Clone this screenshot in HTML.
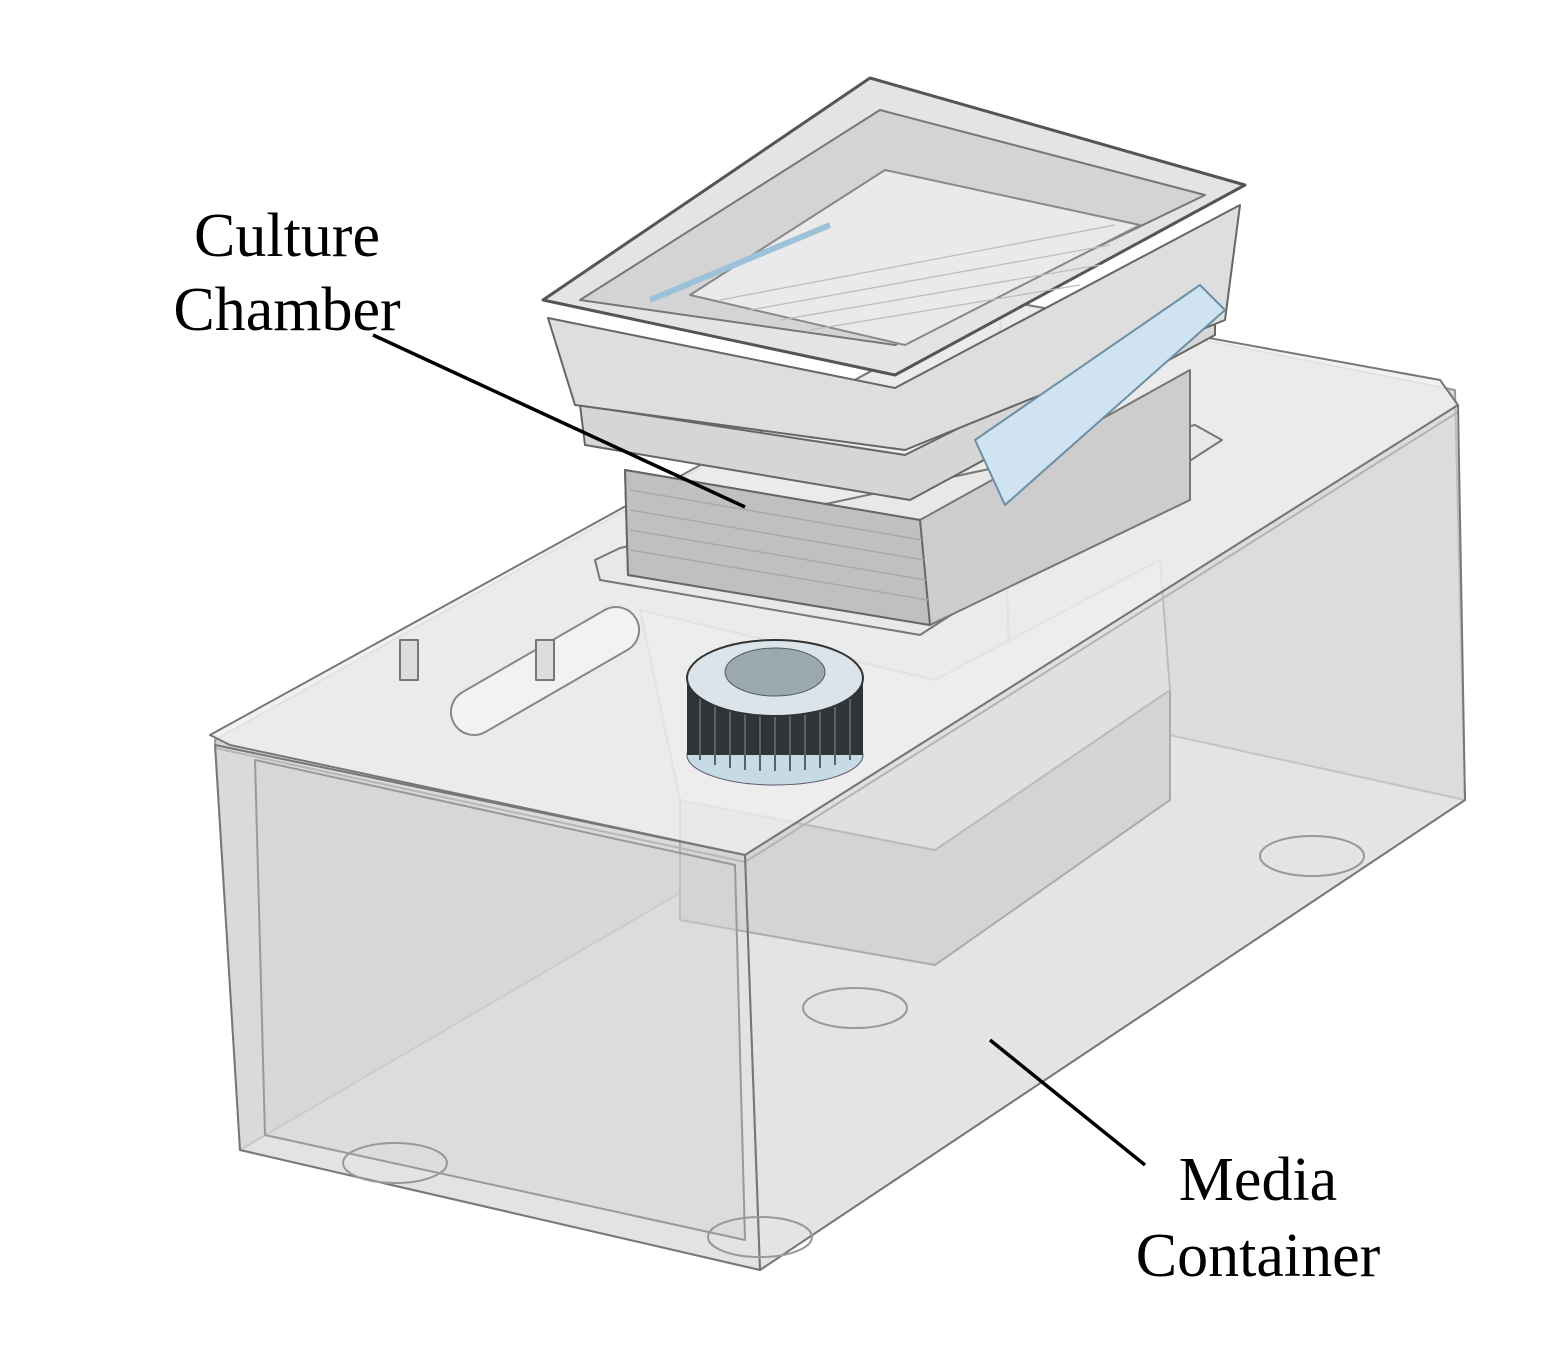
<!DOCTYPE html>
<html><head><meta charset="utf-8"><style>
html,body{margin:0;padding:0;background:#fff}
svg{display:block}
text{font-family:"Liberation Serif",serif;font-size:62px;fill:#000}
</style></head><body>
<svg width="1544" height="1347" viewBox="0 0 1544 1347" xmlns="http://www.w3.org/2000/svg">
<g stroke="#8a8a8a" stroke-width="2" stroke-linejoin="round">
<polygon points="1000,300 1455,390 1465,800 1010,700" fill="#d8d8d8" stroke="#9a9a9a"/>
<polygon points="215,740 1000,300 1010,700 240,1150" fill="#d4d4d4" stroke="#9a9a9a"/>
<polygon points="240,1150 1010,700 1465,800 760,1270" fill="#e8e8e8" stroke="#aaa"/>
<polygon points="680,800 935,850 1170,690 1170,800 935,965 680,920" fill="#c9c9c9" stroke="#777"/>
<polygon points="640,610 935,680 1160,560 1170,690 935,850 680,800" fill="#e0e0e0" stroke="#999"/>
<polygon points="210,735 1000,300 1440,380 1458,405 745,855 230,745" fill="#eeeeee" fill-opacity="0.85" stroke="#777"/>
<polyline points="215,748 745,862 1458,412" fill="none" stroke="#888"/>
<polygon points="215,745 745,855 760,1270 240,1150" fill="#dedede" fill-opacity="0.55" stroke="#777"/>
<polygon points="745,855 1458,405 1465,800 760,1270" fill="#e0e0e0" fill-opacity="0.5" stroke="#777"/>
<polygon points="255,760 735,865 745,1240 265,1135" fill="#d2d2d2" fill-opacity="0.45" stroke="#999"/>
<g fill="none" stroke="#999"><ellipse cx="395" cy="1163" rx="52" ry="20"/><ellipse cx="760" cy="1237" rx="52" ry="20"/><ellipse cx="855" cy="1008" rx="52" ry="20"/><ellipse cx="1312" cy="856" rx="52" ry="20"/></g>
<rect x="440" y="648" width="210" height="46" rx="23" transform="rotate(-30 545 671)" fill="#f2f2f2" stroke="#888"/>
<rect x="400" y="640" width="18" height="40" fill="#ddd" stroke="#777"/>
<rect x="536" y="640" width="18" height="40" fill="#ddd" stroke="#777"/>
<polygon points="595,560 620,548 1195,425 1222,440 920,635 600,580" fill="#e8e8e8" stroke="#777"/>
<polygon points="625,470 920,520 1190,370 1190,500 930,625 628,575" fill="#cdcdcd" stroke="#777"/>
<polygon points="625,470 920,520 930,625 628,575" fill="#c0c0c0" stroke="#666"/>
<g stroke="#a9a9a9" stroke-width="1.5">
<line x1="630" y1="490" x2="922" y2="540"/><line x1="630" y1="510" x2="924" y2="560"/><line x1="630" y1="530" x2="926" y2="580"/><line x1="630" y1="550" x2="928" y2="600"/>
</g>
<polygon points="580,405 905,455 1215,300 1215,335 910,500 585,445" fill="#d6d6d6" stroke="#666"/>
<polygon points="548,318 895,388 1240,205 1225,320 905,450 575,405" fill="#dedede" stroke="#666"/>
<polygon points="543,300 870,78 1245,185 895,375" fill="#e4e4e4" stroke="#555" stroke-width="3"/>
<polygon points="580,300 880,110 1205,195 895,345" fill="#d4d4d4" stroke="#777"/>
<polygon points="690,295 885,170 1140,225 905,345" fill="#eaeaea" stroke="#888"/>
<g stroke="#bbb" stroke-width="1.2">
<line x1="720" y1="300" x2="1115" y2="225"/><line x1="750" y1="310" x2="1110" y2="245"/><line x1="780" y1="320" x2="1100" y2="265"/><line x1="810" y1="330" x2="1080" y2="285"/>
</g>
<polygon points="975,440 1200,285 1225,310 1005,505" fill="#cfe3f0" stroke="#6d8fa5"/>
<line x1="650" y1="300" x2="830" y2="225" stroke="#9cc2da" stroke-width="6"/>
</g>
<ellipse cx="775" cy="755" rx="88" ry="30" fill="#c7dbe6" stroke="#556"/>
<rect x="687" y="680" width="176" height="75" fill="#2e3438"/>
<g stroke="#5a6268" stroke-width="2"><line x1="700" y1="690" x2="700" y2="760"/><line x1="715" y1="695" x2="715" y2="765"/><line x1="730" y1="700" x2="730" y2="768"/><line x1="745" y1="702" x2="745" y2="770"/><line x1="760" y1="703" x2="760" y2="771"/><line x1="775" y1="703" x2="775" y2="771"/><line x1="790" y1="703" x2="790" y2="771"/><line x1="805" y1="702" x2="805" y2="770"/><line x1="820" y1="700" x2="820" y2="768"/><line x1="835" y1="697" x2="835" y2="765"/><line x1="850" y1="692" x2="850" y2="760"/></g>
<ellipse cx="775" cy="678" rx="88" ry="38" fill="#dbe4ea" stroke="#333" stroke-width="2"/>
<ellipse cx="775" cy="672" rx="50" ry="24" fill="#9aa8b0" stroke="#556"/>
<line x1="373" y1="335" x2="745" y2="507" stroke="#000" stroke-width="3.5"/>
<line x1="990" y1="1040" x2="1145" y2="1165" stroke="#000" stroke-width="3.5"/>
<text x="287" y="256" text-anchor="middle">Culture</text>
<text x="287" y="330" text-anchor="middle">Chamber</text>
<text x="1258" y="1200" text-anchor="middle">Media</text>
<text x="1258" y="1276" text-anchor="middle">Container</text>
</svg>
</body></html>
